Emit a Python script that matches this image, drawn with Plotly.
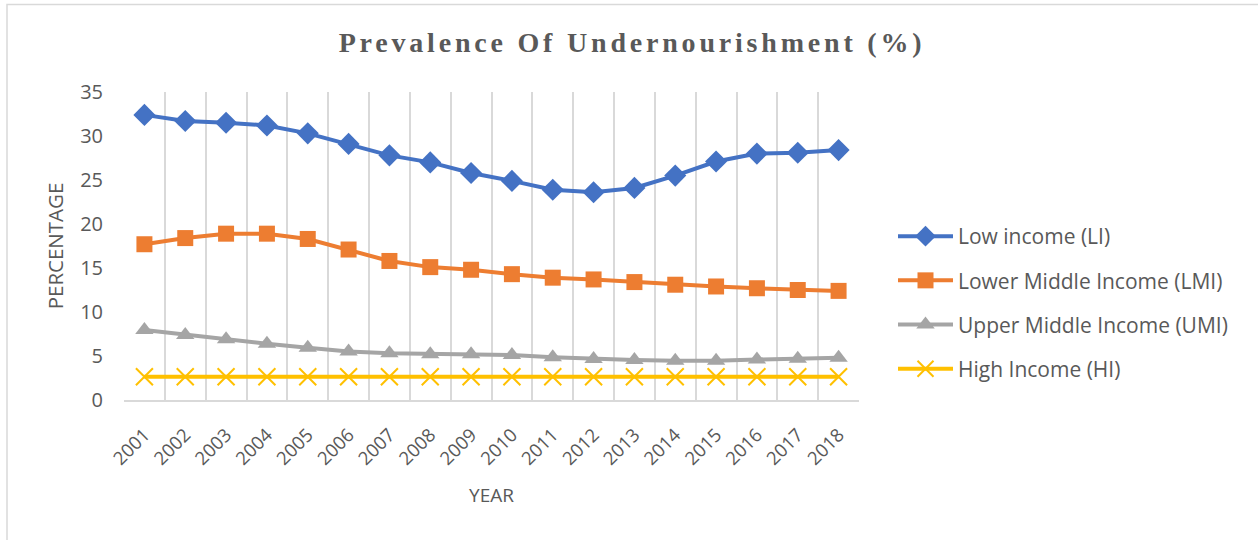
import plotly.graph_objects as go

years = [str(y) for y in range(2001, 2019)]
low_income = [32.4, 31.7, 31.5, 31.2, 30.3, 29.1, 27.8, 27.0, 25.8, 24.9, 23.9, 23.6, 24.1, 25.5, 27.1, 28.0, 28.1, 28.4]
lower_middle = [17.7, 18.4, 18.9, 18.9, 18.3, 17.1, 15.8, 15.1, 14.8, 14.3, 13.9, 13.7, 13.4, 13.1, 12.9, 12.7, 12.5, 12.4]
upper_middle = [7.95, 7.4, 6.9, 6.4, 5.95, 5.5, 5.3, 5.2, 5.2, 5.1, 4.85, 4.65, 4.55, 4.45, 4.45, 4.6, 4.7, 4.8]
high_income = [2.65] * 18

series_names = ["Low income (LI)", "Lower Middle Income (LMI)", "Upper Middle Income (UMI)", "High Income (HI)"]
colors = ["#4472C4", "#ED7D31", "#A5A5A5", "#FFC000"]
symbols = ["diamond", "square", "triangle-up", "x-thin"]
sizes = [17, 16, 16, 17]
data = [low_income, lower_middle, upper_middle, high_income]

# plot area in pixels
L, R, T, B = 124, 859, 92, 400
W, H = 1258, 540

fig = go.Figure()
for i, (name, vals) in enumerate(zip(series_names, data)):
    marker = dict(symbol=symbols[i], size=sizes[i], color=colors[i])
    if symbols[i] == "x-thin":
        marker["line"] = dict(color=colors[i], width=2)
    fig.add_trace(go.Scatter(
        x=years, y=vals, name=name, mode="lines+markers",
        line=dict(color=colors[i], width=4),
        marker=marker, legendgroup=f"g{i}",
    ))

def px_x(p):
    return (p - L) / (R - L)

def px_y(p):
    return (B - p) / (B - T)

fig.update_layout(
    width=W, height=H,
    margin=dict(l=L, r=W - R, t=T, b=H - B, autoexpand=False),
    paper_bgcolor="white", plot_bgcolor="white",
    title=dict(
        text='<span style="letter-spacing:3.8px">Prevalence Of Undernourishment (%)</span>',
        x=632 / W, xref="container", xanchor="center",
        y=1 - 42 / H, yref="container", yanchor="middle",
        font=dict(family="Liberation Serif", size=28, color="#595959", weight="bold"),
    ),
    font=dict(family="Open Sans", color="#595959"),
    legend=dict(
        x=px_x(893), xanchor="left", y=px_y(216), yanchor="top",
        font=dict(size=21, color="#595959"),
        itemwidth=55,
        tracegroupgap=13.9, bgcolor="rgba(0,0,0,0)",
    ),
    showlegend=True,
)

fig.update_xaxes(
    type="category", range=[-0.5, 17.5], tickson="boundaries",
    showgrid=True, gridcolor="#D9D9D9", gridwidth=1.5,
    showline=True, linecolor="#D9D9D9", linewidth=1.5,
    ticks="", tickangle=-45, ticklabelstandoff=15,
    tickfont=dict(size=18.5, color="#595959"),
    title=dict(text="YEAR", font=dict(size=19, color="#595959"), standoff=20),
)
fig.update_yaxes(
    range=[0, 35], dtick=5, showgrid=False, zeroline=False,
    showline=False, ticks="", ticklabelstandoff=20,
    tickfont=dict(size=20, color="#595959"),
    title=dict(text="PERCENTAGE", font=dict(size=20.5, color="#595959"), standoff=10),
)

# outer chart border (extends beyond right and bottom edges as in the reference)
fig.add_shape(
    type="rect", xref="paper", yref="paper",
    x0=px_x(7), x1=px_x(1270), y0=px_y(550), y1=px_y(4.5),
    line=dict(color="#D9D9D9", width=1.5), fillcolor="rgba(0,0,0,0)", layer="below",
)

fig.write_html("out.html")
